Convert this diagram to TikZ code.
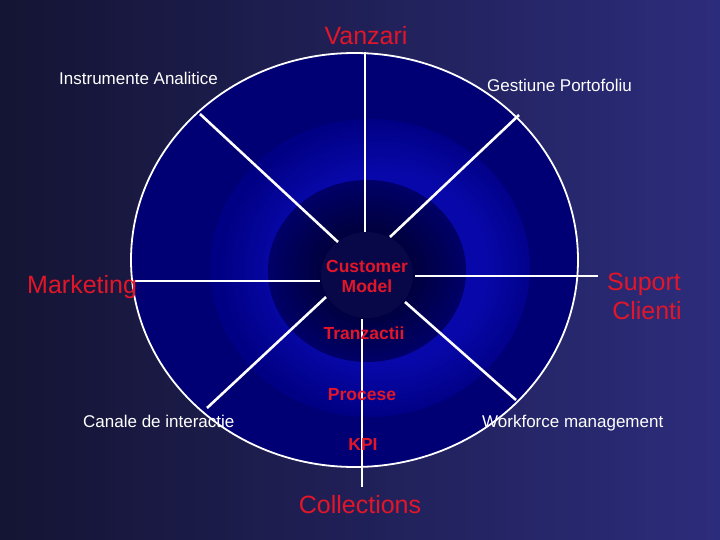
\documentclass[tikz,border=0pt]{standalone}
\usepackage{fontspec}
\setmainfont{Liberation Sans}
\usetikzlibrary{shapes.geometric}
\definecolor{bgL}{RGB}{20,20,52}
\definecolor{bgR}{RGB}{44,44,124}
\definecolor{baseblue}{RGB}{0,0,116}
\definecolor{midblue}{RGB}{0,0,132}
\definecolor{brightblue}{RGB}{8,8,170}
\definecolor{ringouter}{RGB}{0,0,104}
\definecolor{ringinner}{RGB}{0,0,64}
\definecolor{corefill}{RGB}{8,8,72}
\definecolor{lblred}{RGB}{226,22,40}
\pgfdeclareradialshading{brightring}{\pgfpoint{3bp}{0bp}}{color(0bp)=(brightblue); color(16bp)=(brightblue); color(25bp)=(midblue); color(50bp)=(midblue)}
\pgfdeclareradialshading{darkring}{\pgfpointorigin}{color(0bp)=(ringinner); color(12bp)=(ringinner); color(25bp)=(ringouter); color(50bp)=(ringouter)}
\begin{document}
\begin{tikzpicture}[x=1pt,y=-1pt,
  spoke/.style={draw=white,line width=2.6pt},
  rim/.style={draw=white,line width=1.8pt},
  bigred/.style={text=lblred,inner sep=0pt,font=\fontsize{25}{30}\selectfont},
  boldred/.style={text=lblred,inner sep=0pt,font=\fontsize{17.5}{21}\selectfont\bfseries},
  whitelbl/.style={text=white,inner sep=0pt,font=\fontsize{17}{20}\selectfont}]
\useasboundingbox (0,0) rectangle (720,540);
\shade[left color=bgL, right color=bgR] (0,0) rectangle (720,540);
% wheel
\fill[baseblue] (354.5,260) ellipse [x radius=223.5, y radius=207];
\begin{scope}
  \clip (354.5,260) ellipse [x radius=223.5, y radius=207];
  \shade[shading=brightring] (370,268) ellipse [x radius=160, y radius=149];
\end{scope}
\shade[shading=darkring] (367,271) ellipse [x radius=99, y radius=91];
\node[ellipse,fill=corefill,minimum width=92pt,minimum height=86pt,inner sep=0pt] (core) at (367,275) {};
\draw[rim] (354.5,260) ellipse [x radius=223.5, y radius=207];
% spoke end points
\coordinate (n1) at (365,52);  \coordinate (n2) at (365,232);
\coordinate (s1) at (362,319); \coordinate (s2) at (362,487);
\coordinate (w1) at (131,281); \coordinate (w2) at (320,281);
\coordinate (e1) at (415,276); \coordinate (e2) at (598,276);
\coordinate (nw1) at (200,114); \coordinate (nw2) at (338,242);
\coordinate (ne1) at (519,115); \coordinate (ne2) at (390,237);
\coordinate (sw1) at (207,408); \coordinate (sw2) at (326,297);
\coordinate (se1) at (516,400); \coordinate (se2) at (405,302);
\draw[spoke] (n1) -- (n2);
\draw[spoke] (s1) -- (s2);
\draw[spoke] (w1) -- (w2);
\draw[spoke] (e1) -- (e2);
\draw[spoke] (nw1) -- (nw2);
\draw[spoke] (ne1) -- (ne2);
\draw[spoke] (sw1) -- (sw2);
\draw[spoke] (se1) -- (se2);
% labels
\node[bigred,anchor=base] (vanzari) at (366,45) {Vanzari};
\node[bigred,anchor=base west] (marketing) at (27,293) {Marketing};
\node[bigred,anchor=base] (suport) at (644,290) {Suport};
\node[bigred,anchor=base] (clienti) at (647,319) {Clienti};
\node[bigred,anchor=base] (collections) at (360,513) {Collections};
\node[boldred,anchor=base] (customer) at (367,272) {Customer};
\node[boldred,anchor=base] (model) at (367,292) {Model};
\node[boldred,anchor=base] (tranz) at (364,339) {Tranzactii};
\node[boldred,anchor=base] (procese) at (362,400) {Procese};
\node[boldred,anchor=base] (kpi) at (363,450) {KPI};
\node[whitelbl,anchor=base west] (instr) at (59,85) {Instrumente Analitice};
\node[whitelbl,anchor=base west] (gest) at (487,92) {Gestiune Portofoliu};
\node[whitelbl,anchor=base west] (canale) at (83,427) {Canale de interactie};
\node[whitelbl,anchor=base west] (work) at (482,427) {Workforce management};
\end{tikzpicture}
\end{document}
